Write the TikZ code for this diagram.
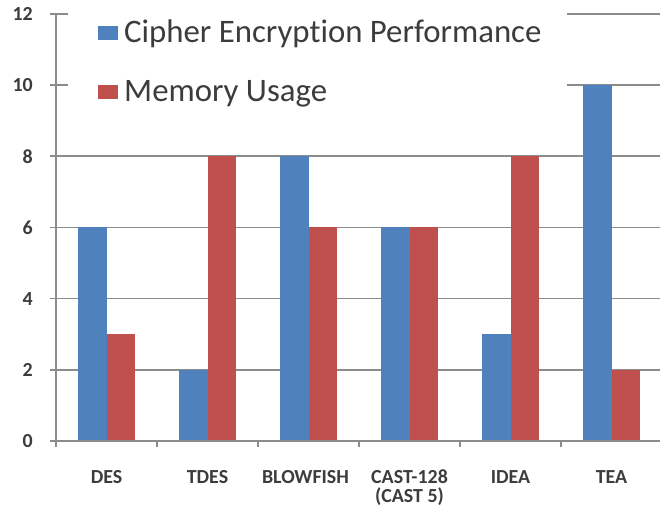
\documentclass[tikz,border=0pt]{standalone}
\usepackage{fontspec}
\setmainfont[Ligatures=CommonOff]{Carlito}
\usepackage{tikz}
\usetikzlibrary{positioning}
\definecolor{barblue}{HTML}{4F81BD}
\definecolor{barred}{HTML}{C0504D}
\definecolor{gridgray}{HTML}{8C8C8C}
\definecolor{labelgray}{HTML}{3C3C3C}

\begin{document}
\begin{tikzpicture}[x=3.03cm,y=1.068cm]
      \useasboundingbox (-0.5545,-1.826) rectangle (5.98,12.388);
      \begin{scope}[draw=gridgray,line width=1.3pt]
      \draw (-0.06,2) -- (5.98,2);
      \draw (-0.06,4) -- (5.98,4);
      \draw (-0.06,6) -- (5.98,6);
      \draw (-0.06,8) -- (5.98,8);
      \draw (-0.06,10) -- (5.98,10);
      \draw (-0.06,12) -- (5.98,12);
      \end{scope}
      % legend box hides the upper grid lines
      \fill[white] (0.119,8.9) rectangle (5.06,12.388);
      \begin{scope}[every node/.style={draw=none,minimum width=0.6cm,minimum height=0.42cm,inner sep=0pt}]
      \node[fill=barblue] (keyblue) at (0.515,11.46) {};
      \node[fill=barred] (keyred) at (0.515,9.79) {};
      \end{scope}
      \begin{scope}[every node/.style={text=labelgray,inner sep=0pt,anchor=base west,font=\fontsize{28}{33}\selectfont}]
      \node (keycipher) at (0.673,11.19) {Cipher Encryption Performance};
      \node (keymemory) at (0.673,9.54) {Memory Usage};
      \end{scope}
      % bars
      \begin{scope}[barblue]
      \fill (0.22,0) rectangle (0.5,6);
      \fill (1.22,0) rectangle (1.5,2);
      \fill (2.22,0) rectangle (2.5,8);
      \fill (3.22,0) rectangle (3.5,6);
      \fill (4.22,0) rectangle (4.5,3);
      \fill (5.22,0) rectangle (5.5,10);
      \end{scope}
      \begin{scope}[barred]
      \fill (0.5,0) rectangle (0.78,3);
      \fill (1.5,0) rectangle (1.78,8);
      \fill (2.5,0) rectangle (2.78,6);
      \fill (3.5,0) rectangle (3.78,6);
      \fill (4.5,0) rectangle (4.78,8);
      \fill (5.5,0) rectangle (5.78,2);
      \end{scope}
      % axes
      \begin{scope}[draw=gridgray,line width=1.3pt]
      \draw (0,12) -- (0,-0.17);
      \draw (-0.06,0) -- (5.98,0);
      \draw (1,0) -- (1,-0.17);
      \draw (2,0) -- (2,-0.17);
      \draw (3,0) -- (3,-0.17);
      \draw (4,0) -- (4,-0.17);
      \draw (5,0) -- (5,-0.17);
      \end{scope}
      \begin{scope}[every node/.style={text=labelgray,inner sep=0pt,anchor=east,font=\fontsize{17}{20}\bfseries}]
      \node (y0) at (-0.228,0) {0};
      \node (y2) at (-0.228,2) {2};
      \node (y4) at (-0.228,4) {4};
      \node (y6) at (-0.228,6) {6};
      \node (y8) at (-0.228,8) {8};
      \node (y10) at (-0.228,10) {10};
      \node (y12) at (-0.228,12) {12};
      \end{scope}
      \begin{scope}[every node/.style={text=labelgray,inner sep=0pt,anchor=base,font=\fontsize{17}{20}\bfseries}]
      \node (des) at (0.5,-1.18) {DES};
      \node (tdes) at (1.5,-1.18) {TDES};
      \node (blowfish) at (2.47,-1.18) {BLOWFISH};
      \node (cast) at (3.5,-1.18) {CAST-128};
      \node (cast5) at (3.5,-1.74) {(CAST 5)};
      \node (idea) at (4.5,-1.18) {IDEA};
      \node (tea) at (5.5,-1.18) {TEA};
      \end{scope}
      \end{tikzpicture}
\end{document}
